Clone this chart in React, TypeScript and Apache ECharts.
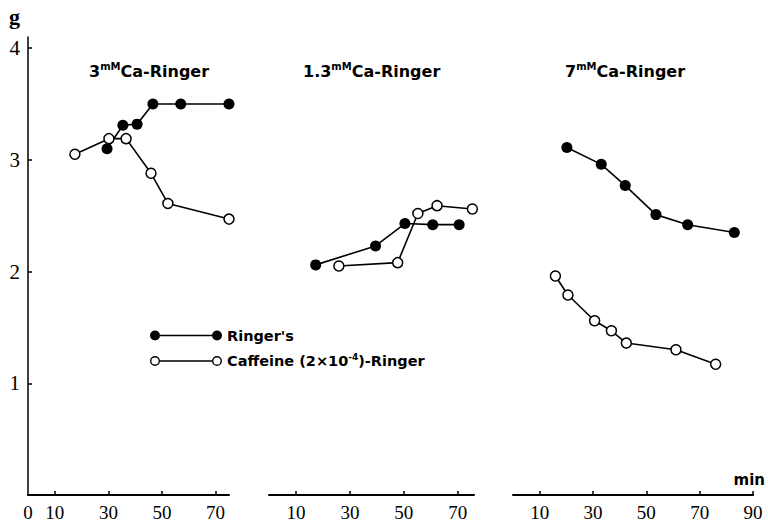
import React, { useEffect, useRef } from "react";
import * as echarts from "echarts";

// ---- data (time in min, tension in g) ----
const panelConc = ["3", "1.3", "7"];
const ringer3mM = [[29.5, 3.1], [35.4, 3.31], [40.7, 3.32], [46.6, 3.5], [57, 3.5], [75, 3.5]];
const caffeine3mM = [[17.5, 3.05], [30.2, 3.19], [36.6, 3.19], [45.9, 2.88], [52.2, 2.61], [75, 2.47]];
const ringer13mM = [[17.3, 2.06], [39.5, 2.23], [50.4, 2.43], [60.7, 2.42], [70.5, 2.42]];
const caffeine13mM = [[25.9, 2.05], [47.7, 2.08], [55.2, 2.52], [62.3, 2.59], [75.4, 2.56]];
const ringer7mM = [[20.2, 3.11], [33.1, 2.96], [42.1, 2.77], [53.6, 2.51], [65.5, 2.42], [83.0, 2.35]];
const caffeine7mM = [[15.9, 1.96], [20.6, 1.79], [30.6, 1.56], [36.9, 1.47], [42.5, 1.36], [61.1, 1.3], [76.0, 1.17]];

const xLabels1 = [0, 10, 30, 50, 70];
const xLabels2 = [10, 30, 50, 70];
const xLabels3 = [10, 30, 50, 70, 90];
const xTicks12 = [10, 30, 50, 70];
const xTicks3 = [10, 30, 50, 70, 90];
const xMax = [75, 76, 90];
const yTicks = [1, 2, 3, 4];

const RINGER = "Ringer's";
const CAFFEINE = "Caffeine (2×10⁻⁴)-Ringer";

const SERIF = "'Liberation Serif', 'DejaVu Serif', serif";
const SANS = "'DejaVu Sans', 'Liberation Sans', sans-serif";

const filledIcon =
  "path://M0,5A5,5,0,1,1,10,5A5,5,0,1,1,0,5ZM10,4.2L62,4.2L62,5.8L10,5.8ZM62,5A5,5,0,1,1,72,5A5,5,0,1,1,62,5Z";
const openIcon =
  "path://M0,5A5,5,0,1,1,10,5A5,5,0,1,1,0,5ZM1.4,5A3.6,3.6,0,1,0,8.6,5A3.6,3.6,0,1,0,1.4,5ZM10,4.2L62,4.2L62,5.8L10,5.8ZM62,5A5,5,0,1,1,72,5A5,5,0,1,1,62,5ZM63.4,5A3.6,3.6,0,1,0,70.6,5A3.6,3.6,0,1,0,63.4,5Z";

export default function App() {
  const ref = useRef<HTMLDivElement>(null);
  useEffect(() => {
    const chart = echarts.init(ref.current!, null, { renderer: "svg" });

    const grids = [
      { left: 28, top: 37, width: 201, height: 458 },
      { left: 269, top: 37, width: 205, height: 458 },
      { left: 513, top: 37, width: 240, height: 458 },
    ];
    const labelSets = [xLabels1, xLabels2, xLabels3];
    const tickSets = [xTicks12, xTicks12, xTicks3];

    const xAxis = grids.map((_, i) => ({
      type: "value",
      gridIndex: i,
      min: 0,
      max: xMax[i],
      axisLine: { show: true, lineStyle: { color: "#000", width: 2 } },
      axisTick: { show: true, inside: true, length: 4, customValues: tickSets[i], lineStyle: { color: "#000", width: 1.5 } },
      axisLabel: { show: true, customValues: labelSets[i], fontFamily: SERIF, fontSize: 19, color: "#000", margin: 8 },
      splitLine: { show: false },
      ...(i === 2
        ? {
            name: "min",
            nameLocation: "end",
            nameGap: 12,
            nameTextStyle: {
              fontFamily: SANS,
              fontWeight: "bold",
              fontSize: 15,
              color: "#000",
              align: "right",
              verticalAlign: "bottom",
              padding: [0, 0, 8, 0],
            },
          }
        : {}),
    }));

    const yAxis = grids.map((_, i) => ({
      type: "value",
      gridIndex: i,
      min: 0,
      max: 4.1,
      show: i === 0,
      axisLine: { show: true, lineStyle: { color: "#000", width: 1.5 } },
      axisTick: { show: true, inside: true, length: 4, customValues: yTicks, lineStyle: { color: "#000", width: 1.5 } },
      axisLabel: { show: true, customValues: yTicks, fontFamily: SERIF, fontSize: 21, color: "#000", margin: 8 },
      splitLine: { show: false },
      ...(i === 0
        ? {
            name: "g",
            nameLocation: "end",
            nameGap: 10,
            nameTextStyle: {
              fontFamily: SERIF,
              fontWeight: "bold",
              fontSize: 22,
              color: "#000",
              align: "right",
              verticalAlign: "bottom",
              padding: [0, 8, 0, 0],
            },
          }
        : {}),
    }));

    const ringerSets = [ringer3mM, ringer13mM, ringer7mM];
    const caffeineSets = [caffeine3mM, caffeine13mM, caffeine7mM];
    const series: any[] = [];
    for (let i = 0; i < 3; i++) {
      series.push({
        type: "line",
        name: RINGER,
        xAxisIndex: i,
        yAxisIndex: i,
        data: ringerSets[i],
        symbol: "circle",
        symbolSize: 11,
        clip: false,
        itemStyle: { color: "#000" },
        lineStyle: { color: "#000", width: 1.6 },
        z: 2,
      });
      series.push({
        type: "line",
        name: CAFFEINE,
        xAxisIndex: i,
        yAxisIndex: i,
        data: caffeineSets[i],
        symbol: "circle",
        symbolSize: 10,
        showAllSymbol: true,
        clip: false,
        itemStyle: { color: "#fff", borderColor: "#000", borderWidth: 1.5 },
        lineStyle: { color: "#000", width: 1.6 },
        z: 3,
      });
    }

    const titleLefts = [89, 303, 565];
    const title = panelConc.map((c, i) => ({
      left: titleLefts[i],
      top: 61,
      padding: 0,
      text: `{n|${c}}{s|mM}{t|Ca-Ringer}`,
      textStyle: {
        rich: {
          n: { fontFamily: SANS, fontWeight: "bold", fontSize: 16, color: "#000", lineHeight: 20 },
          s: { fontFamily: SANS, fontWeight: "bold", fontSize: 10, color: "#000", verticalAlign: "top", lineHeight: 20 },
          t: { fontFamily: SANS, fontWeight: "bold", fontSize: 16, color: "#000", lineHeight: 20 },
        },
      },
    }));

    chart.setOption({
      animation: false,
      backgroundColor: "#fff",
      title,
      grid: grids,
      xAxis,
      yAxis,
      legend: {
        left: 150,
        top: 328,
        padding: 0,
        orient: "vertical",
        itemWidth: 72,
        itemHeight: 10,
        itemGap: 9,
        selectedMode: false,
        data: [
          { name: RINGER, icon: filledIcon, itemStyle: { color: "#000", borderWidth: 0 } },
          { name: CAFFEINE, icon: openIcon, itemStyle: { color: "#000", borderWidth: 0 } },
        ],
        formatter: (name: string) =>
          name === CAFFEINE ? "{a|Caffeine (2×10}{s|-4}{a|)-Ringer}" : "{a|Ringer's}",
        textStyle: {
          rich: {
            a: { fontFamily: SANS, fontWeight: "bold", fontSize: 14.5, color: "#000", lineHeight: 18 },
            s: { fontFamily: SANS, fontWeight: "bold", fontSize: 9, color: "#000", verticalAlign: "top", lineHeight: 18 },
          },
        },
      },
      series,
    });
    return () => chart.dispose();
  }, []);
  return <div ref={ref} style={{ position: "fixed", left: 0, top: 0, width: 768, height: 526 }} />;
}
